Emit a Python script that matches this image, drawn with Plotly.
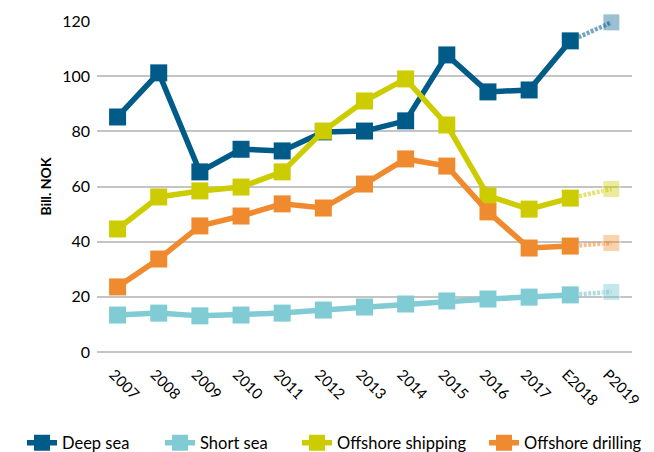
import plotly.graph_objects as go

categories = ["2007", "2008", "2009", "2010", "2011", "2012", "2013", "2014",
              "2015", "2016", "2017", "E2018", "P2019"]
deep_sea = [85.2, 101.2, 65.3, 73.5, 72.9, 79.8, 80.1, 83.8, 107.7, 94.3, 95.0, 112.8, 119.5]
short_sea = [13.4, 14.1, 13.1, 13.4, 14.1, 15.2, 16.3, 17.4, 18.5, 19.2, 19.9, 20.7, 21.8]
offshore_shipping = [44.6, 56.2, 58.4, 59.8, 65.3, 80.1, 91.0, 99.0, 82.3, 56.6, 51.8, 55.8, 59.1]
offshore_drilling = [23.6, 33.7, 45.7, 49.3, 53.7, 52.2, 60.9, 70.0, 67.4, 50.8, 37.7, 38.4, 39.5]

series = [
    ("Deep sea", deep_sea, "#005b88", "rgba(0,91,136,0.55)"),
    ("Short sea", short_sea, "#80cbd4", "rgba(128,203,212,0.65)"),
    ("Offshore shipping", offshore_shipping, "#cccc00", "rgba(204,204,0,0.55)"),
    ("Offshore drilling", offshore_drilling, "#f08a2e", "rgba(240,138,46,0.55)"),
]
legend_ids = ["legend", "legend2", "legend3", "legend4"]
legend_x = [-0.1402, 0.1178, 0.3738, 0.7234]

fig = go.Figure()
for name, vals, col, light in series:
    fig.add_trace(go.Scatter(
        x=categories[-2:], y=vals[-2:], mode="lines+markers",
        line=dict(color=light, width=4.5, dash="3px,1.5px"),
        marker=dict(symbol="square", size=[0, 17], color=light),
        showlegend=False, hoverinfo="skip", cliponaxis=False,
    ))
for (name, vals, col, light), lid in zip(series, legend_ids):
    fig.add_trace(go.Scatter(
        x=categories[:-1], y=vals[:-1], mode="lines+markers", name=name,
        line=dict(color=col, width=5.5),
        marker=dict(symbol="square", size=17, color=col),
        cliponaxis=False, legend=lid,
    ))

legend_common = dict(orientation="h", y=-0.222, xanchor="left", yanchor="top",
                     font=dict(size=16.5), itemwidth=30, bgcolor="rgba(0,0,0,0)")

# the page body adds an 8px margin, so the figure is sized to fit inside it
fig.update_layout(
    width=646, height=444,
    margin=dict(l=89, r=22, t=13, b=100, autoexpand=False),
    paper_bgcolor="white", plot_bgcolor="white",
    font=dict(family="Lato, 'Open Sans', sans-serif", size=16, color="#000000"),
    showlegend=True,
    legend=dict(x=legend_x[0], **legend_common),
    legend2=dict(x=legend_x[1], **legend_common),
    legend3=dict(x=legend_x[2], **legend_common),
    legend4=dict(x=legend_x[3], **legend_common),
)
fig.update_xaxes(
    type="category", categoryorder="array", categoryarray=categories,
    range=[-0.5, 12.5], tickangle=45, showgrid=False, showline=False,
    ticks="", tickfont=dict(size=15), automargin=False,
    ticklabelstandoff=10, ticklabelshift=-4,
)
fig.update_yaxes(
    range=[0, 120], dtick=20, showgrid=True, gridcolor="#c4c4c4", gridwidth=1.5,
    zeroline=True, zerolinecolor="#c4c4c4", zerolinewidth=1.5,
    showline=False, ticks="", ticklen=0, tickfont=dict(size=16), automargin=False,
    ticklabelstandoff=6,
    title=dict(text="<b>Bill. NOK</b>", font=dict(size=14), standoff=7),
)

fig.write_html("out.html")
